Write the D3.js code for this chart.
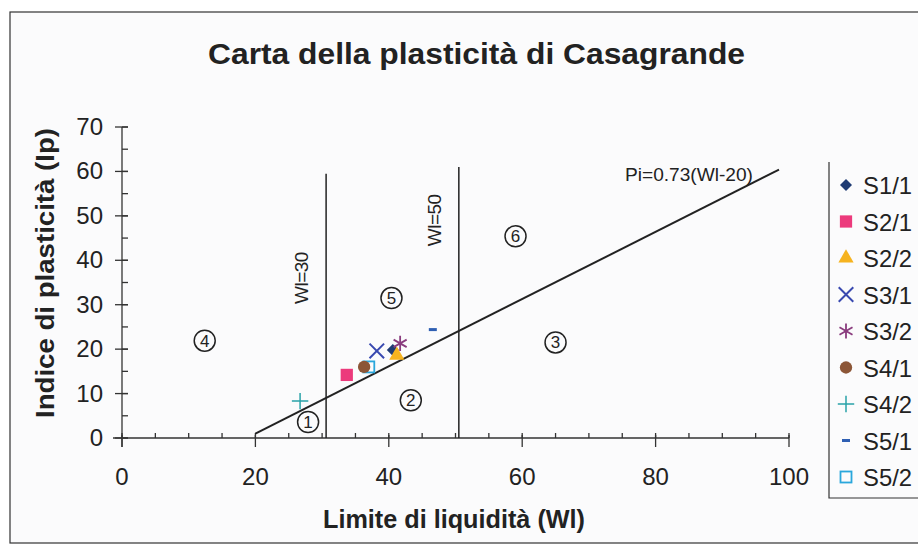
<!DOCTYPE html>
<html>
<head>
<meta charset="utf-8">
<script src="https://cdn.jsdelivr.net/npm/d3@7"></script>
<style>
  body { margin: 0; background: #fff; }
  svg { display: block; font-family: Arial, "Liberation Sans", sans-serif; }
</style>
</head>
<body>
<svg width="918" height="553"></svg>
<script>
// samples (Wl = liquid limit, Ip = plasticity index)
const samples = ['S1/1', 'S2/1', 'S2/2', 'S3/1', 'S3/2', 'S4/1', 'S4/2', 'S5/1', 'S5/2'];
const wlValues = [40.6, 33.7, 41.2, 38.2, 41.7, 36.3, 26.7, 46.6, 37.0];
const ipValues = [19.8, 14.2, 18.6, 19.6, 21.3, 16.0, 8.3, 24.4, 16.0];

// A-line Pi=0.73(Wl-20) as drawn, and the Wl boundaries
const aLineWl = [20, 98.5];
const aLineIp = [1, 60.4];
const boundWl = [30.6, 50.5];
const boundTop = [59.5, 61];
const boundLabels = ['Wl=30', 'Wl=50'];
const boundLabelIp = [36, 49];

// zone numbers
const zones = ['1', '2', '3', '4', '5', '6'];
const zoneWl = [27.9, 43.3, 65.0, 12.4, 40.4, 59.0];
const zoneIp = [3.6, 8.5, 21.5, 21.9, 31.5, 45.4];

const xTicks = [0, 20, 40, 60, 80, 100];
const yTicks = [0, 10, 20, 30, 40, 50, 60, 70];

const colors = ['#1f3b73', '#ec3a7c', '#f6b31f', '#3949b0', '#8a3c7e', '#8c5637', '#2aa3a8', '#2f5fb3', '#2aa7dc'];
const shapes = ['diamond', 'square', 'triangle', 'times', 'asterisk', 'circle', 'plus', 'dash', 'open'];

const svg = d3.select('svg');

const x = d3.scaleLinear().domain([0, 100]).range([122, 789]);
const y = d3.scaleLinear().domain([0, 70]).range([438, 127]);

// outer frame
svg.append('rect')
  .attr('x', 10).attr('y', 12).attr('width', 930).attr('height', 531)
  .attr('fill', '#fbfbfc').attr('stroke', '#333').attr('stroke-width', 1.2);

svg.append('text')
  .attr('x', 208).attr('y', 64)
  .attr('font-size', 29).attr('font-weight', 'bold').attr('fill', '#222')
  .attr('textLength', 537).attr('lengthAdjust', 'spacingAndGlyphs')
  .text('Carta della plasticità di Casagrande');

// axes
const xAxis = svg.append('g').attr('stroke', '#333').attr('stroke-width', 1.3);
xAxis.append('line').attr('x1', 113).attr('x2', x(100)).attr('y1', y(0)).attr('y2', y(0));
xAxis.selectAll('.minor').data(d3.range(0, 101, 5)).enter().append('line')
  .attr('x1', d => x(d)).attr('x2', d => x(d))
  .attr('y1', y(0) - 5).attr('y2', y(0));
xAxis.selectAll('.major').data(xTicks).enter().append('line')
  .attr('x1', d => x(d)).attr('x2', d => x(d))
  .attr('y1', y(0) - 3).attr('y2', y(0) + 9);

const yAxis = svg.append('g').attr('stroke', '#333').attr('stroke-width', 1.3);
yAxis.append('line').attr('x1', x(0)).attr('x2', x(0)).attr('y1', y(70)).attr('y2', y(0) + 9);
yAxis.selectAll('.minor').data(d3.range(0, 71, 5)).enter().append('line')
  .attr('x1', x(0)).attr('x2', x(0) + 6)
  .attr('y1', d => y(d)).attr('y2', d => y(d));
yAxis.selectAll('.major').data(yTicks).enter().append('line')
  .attr('x1', x(0) - 7).attr('x2', x(0) + 6)
  .attr('y1', d => y(d)).attr('y2', d => y(d));

svg.append('g').selectAll('text').data(xTicks).enter().append('text')
  .attr('x', d => x(d)).attr('y', y(0) + 47)
  .attr('text-anchor', 'middle').attr('font-size', 24).attr('fill', '#222')
  .text(d => d);

svg.append('g').selectAll('text').data(yTicks).enter().append('text')
  .attr('x', 103).attr('y', d => y(d) + 8)
  .attr('text-anchor', 'end').attr('font-size', 24).attr('fill', '#222')
  .text(d => d);

svg.append('text')
  .attr('x', 323).attr('y', 528)
  .attr('font-size', 25).attr('font-weight', 'bold').attr('fill', '#222')
  .attr('textLength', 262).attr('lengthAdjust', 'spacingAndGlyphs')
  .text('Limite di liquidità (Wl)');

svg.append('text')
  .attr('transform', 'translate(54,418) rotate(-90)')
  .attr('font-size', 26).attr('font-weight', 'bold').attr('fill', '#222')
  .attr('textLength', 290).attr('lengthAdjust', 'spacingAndGlyphs')
  .text('Indice di plasticità (Ip)');

// classification lines
const lines = svg.append('g').attr('stroke', '#222').attr('fill', 'none');
lines.append('line')
  .attr('x1', x(aLineWl[0])).attr('y1', y(aLineIp[0]))
  .attr('x2', x(aLineWl[1])).attr('y2', y(aLineIp[1]))
  .attr('stroke-width', 2);
lines.selectAll('.bound').data(boundWl).enter().append('line')
  .attr('x1', d => x(d)).attr('x2', d => x(d))
  .attr('y1', (d, i) => y(boundTop[i])).attr('y2', y(0))
  .attr('stroke-width', 1.5);

svg.append('g').selectAll('text').data(boundLabels).enter().append('text')
  .attr('transform', (d, i) => 'translate(' + (x(boundWl[i]) - 18) + ',' + y(boundLabelIp[i]) + ') rotate(-90)')
  .attr('text-anchor', 'middle').attr('font-size', 19).attr('fill', '#222')
  .attr('letter-spacing', -0.5)
  .text(d => d);

svg.append('text')
  .attr('x', 625).attr('y', 181)
  .attr('font-size', 19).attr('fill', '#222')
  .attr('textLength', 128).attr('lengthAdjust', 'spacingAndGlyphs')
  .text('Pi=0.73(Wl-20)');

// zone markers
const zone = svg.append('g').selectAll('g').data(zones).enter().append('g')
  .attr('transform', (d, i) => 'translate(' + x(zoneWl[i]) + ',' + y(zoneIp[i]) + ')');
zone.append('circle').attr('r', 10.5).attr('fill', 'none').attr('stroke', '#222').attr('stroke-width', 1.5);
zone.append('text').attr('y', 6).attr('text-anchor', 'middle')
  .attr('font-size', 17).attr('fill', '#222').text(d => d);

// marker drawing
function drawMarker(g, shape, color) {
  if (shape === 'diamond') {
    g.append('path').attr('d', 'M0,-6L6,0L0,6L-6,0Z').attr('fill', color);
  } else if (shape === 'square') {
    g.append('path').attr('d', d3.symbol(d3.symbolSquare, 150)()).attr('fill', color);
  } else if (shape === 'triangle') {
    g.append('path').attr('d', d3.symbol(d3.symbolTriangle, 100)()).attr('fill', color);
  } else if (shape === 'times') {
    g.append('path').attr('d', d3.symbol(d3.symbolTimes, 140)()).attr('fill', 'none').attr('stroke', color).attr('stroke-width', 2);
  } else if (shape === 'asterisk') {
    g.append('path').attr('d', d3.symbol(d3.symbolAsterisk, 160)()).attr('fill', 'none').attr('stroke', color).attr('stroke-width', 1.8);
  } else if (shape === 'circle') {
    g.append('path').attr('d', d3.symbol(d3.symbolCircle, 120)()).attr('fill', color);
  } else if (shape === 'plus') {
    g.append('path').attr('d', d3.symbol(d3.symbolPlus, 90)()).attr('fill', 'none').attr('stroke', color).attr('stroke-width', 1.5);
  } else if (shape === 'dash') {
    g.append('rect').attr('x', -4).attr('y', -1.5).attr('width', 8).attr('height', 3).attr('fill', color);
  } else {
    g.append('rect').attr('x', -5.5).attr('y', -5.5).attr('width', 11).attr('height', 11)
      .attr('fill', 'none').attr('stroke', color).attr('stroke-width', 1.8);
  }
}

// points, drawn so the open square and circle overlap like the original
const order = [8, 5, 1, 3, 0, 2, 4, 6, 7];
order.forEach(i => {
  const g = svg.append('g').attr('transform', 'translate(' + x(wlValues[i]) + ',' + y(ipValues[i]) + ')');
  drawMarker(g, shapes[i], colors[i]);
});

// legend
svg.append('path')
  .attr('d', 'M829,162V498H930')
  .attr('fill', 'none').attr('stroke', '#333').attr('stroke-width', 1.2);

samples.forEach((s, i) => {
  const yy = 185 + i * 36.5;
  const g = svg.append('g').attr('transform', 'translate(846,' + yy + ')');
  drawMarker(g, shapes[i], colors[i]);
  svg.append('text').attr('x', 863).attr('y', yy + 9)
    .attr('font-size', 24).attr('fill', '#222')
    .attr('textLength', 49).attr('lengthAdjust', 'spacingAndGlyphs')
    .text(s);
});
</script>
</body>
</html>
